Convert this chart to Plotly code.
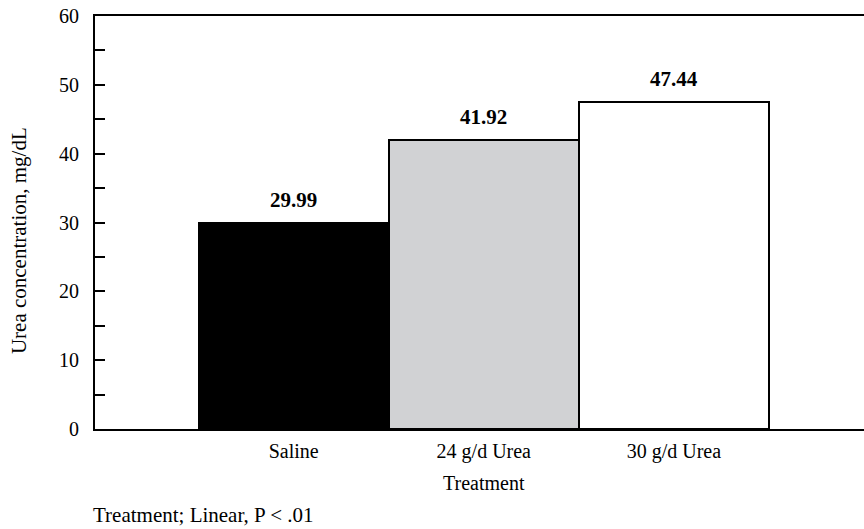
import plotly.graph_objects as go

categories = ["Saline", "24 g/d Urea", "30 g/d Urea"]
values = [29.99, 41.92, 47.44]
value_labels = ["29.99", "41.92", "47.44"]
colors = ["#000000", "#d1d2d4", "#ffffff"]
y_ticks = [0, 10, 20, 30, 40, 50, 60]

font_family = "Liberation Serif, Times New Roman, serif"

fig = go.Figure()
fig.add_trace(go.Bar(
    x=categories, y=values,
    marker=dict(color=colors, line=dict(color="#000000", width=2)),
    width=1.0, showlegend=False, hoverinfo="skip",
))

for c, v, t in zip(categories, values, value_labels):
    fig.add_annotation(x=c, y=v, text="<b>%s</b>" % t, showarrow=False,
                       yanchor="middle", yshift=23,
                       font=dict(family=font_family, size=21, color="#000000"))

# x-axis title
fig.add_annotation(x=0.506, y=0, xref="paper", yref="paper", xanchor="center", yanchor="middle",
                   yshift=-54, text="Treatment", showarrow=False,
                   font=dict(family=font_family, size=20, color="#000000"))
# y-axis title
fig.add_annotation(x=0, y=0.455, xref="paper", yref="paper", xanchor="center", yanchor="middle",
                   xshift=-76, text="Urea concentration, mg/dL", showarrow=False, textangle=-90,
                   font=dict(family=font_family, size=21, color="#000000"))
# footnote
fig.add_annotation(x=0, y=0, xref="paper", yref="paper", xanchor="left", yanchor="middle",
                   yshift=-86, xshift=-4, text="Treatment; Linear, P < .01", showarrow=False,
                   font=dict(family=font_family, size=21, color="#000000"))

fig.update_layout(
    width=864, height=529,
    margin=dict(l=95, r=0, t=16, b=100),
    paper_bgcolor="white", plot_bgcolor="white",
    bargap=0,
    font=dict(family=font_family, size=19, color="#000000"),
    xaxis=dict(
        range=[-1.045, 3.0], showline=True, linecolor="#000000", linewidth=2,
        mirror=True, ticks="", showgrid=False, zeroline=False,
        ticklabelstandoff=3,
        tickfont=dict(size=20),
    ),
    yaxis=dict(
        range=[0, 60], tickvals=y_ticks, showline=True, linecolor="#000000", linewidth=2,
        ticks="inside", ticklen=10, tickcolor="#000000", tickwidth=1.5,
        minor=dict(dtick=5, ticks="inside", ticklen=10, tickcolor="#000000", tickwidth=1.5, showgrid=False),
        showgrid=False, zeroline=False, ticklabelstandoff=10,
        tickfont=dict(size=20),
    ),
)

fig.write_html("out.html", config={"displayModeBar": False},
               post_script="document.body.style.margin='0';document.body.style.overflow='hidden';")
